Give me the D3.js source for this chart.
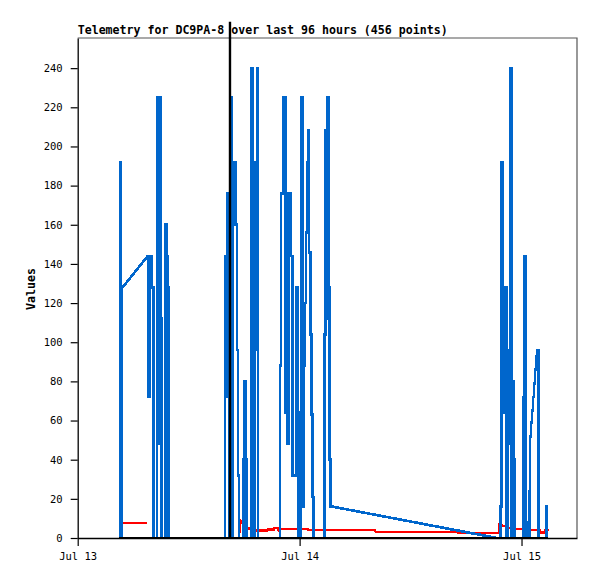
<!DOCTYPE html>
<html><head><meta charset="utf-8">
<script src="https://cdn.jsdelivr.net/npm/d3@7"></script>
<style>
html,body{margin:0;padding:0;background:#fff;}
svg{display:block;}
</style></head>
<body>
<script>
// ---- data (hours since Jul 13 00:00 UTC) ----
const title = "Telemetry for DC9PA-8 over last 96 hours (456 points)";
const yLabel = "Values";
const xTickLabels = ["Jul 13", "Jul 14", "Jul 15"];
const yTicks = [0,20,40,60,80,100,120,140,160,180,200,220,240];

const blueHours = [4.52,4.61,4.70,4.85,7.57,7.68,7.87,8.12,8.25,8.52,8.63,8.74,8.90,9.01,9.12,9.44,9.53,9.64,9.77,9.87,
  15.88,15.99,16.13,16.29,16.42,16.58,16.72,16.87,17.01,17.17,17.28,17.39,17.48,17.86,17.96,18.05,18.18,18.27,18.71,18.83,18.98,19.10,19.20,19.31,19.45,19.56,
  21.83,21.93,22.07,22.31,22.44,22.58,22.74,22.93,23.12,23.29,23.51,23.69,23.81,23.88,24.08,24.21,24.34,24.40,24.51,24.66,24.74,24.85,24.96,25.09,25.21,25.31,25.45,25.54,
  26.64,26.73,26.84,26.97,27.07,27.20,27.31,27.42,27.58,45.35,
  45.65,45.73,45.87,46.03,46.16,46.32,46.45,46.57,46.68,46.86,46.99,47.11,47.24,47.33,48.14,48.22,48.38,48.51,48.57,48.79,48.86,48.97,49.08,49.19,49.30,49.41,49.52,49.63,49.78,49.89,50.65,50.72,50.79];
const blueValues = [0,192,0,128,144,72,144,128,0,0,225,48,225,112,0,0,160,144,128,0,
  0,144,72,176,0,225,0,176,192,160,96,32,0,0,40,80,40,0,0,240,16,0,96,192,240,0,
  0,88,176,225,225,64,48,176,144,32,32,128,64,0,0,225,112,16,88,120,156,192,208,146,104,63,21,0,
  0,104,208,112,225,128,40,16,16,0,
  0,16,192,128,64,128,0,48,96,240,0,80,40,0,0,72,144,8,0,0,24,52,59,65,72,79,86,93,96,0,0,16,0];

const redHours = [4.46,7.49,null,17.55,17.61,17.86,17.91,18.96,19.01,20.47,20.53,21.23,21.28,21.66,21.72,21.88,24.91,24.96,32.15,32.21,41.02,41.08,45.57,45.62,46.20,46.42,46.45,46.50,47.30,47.35,48.27,48.32,50.01,50.06,50.52,50.57,50.98];
const redValues = [7.8,7.8,null,2.5,9,8.5,4.8,4.8,3.8,3.8,4.4,4.4,5,5,4.0,4.6,4.6,4.1,4.1,3.2,3.2,2.7,2.7,7,6,6,9.2,5,5,4.6,4.6,4.1,4.1,2.8,2.8,4.0,4.0];

const blackHours = [4.46, 50.90];
const blackValues = [0, 0];

const markerHour = 16.47;

// ---- layout ----
const W = 597, H = 579;
const L = 77.7, R = 577, T = 38, B = 538;
const base = Date.UTC(2023, 6, 13);
const hr = h => new Date(base + h * 3600000);

const x = d3.scaleUtc().domain([hr(0), hr(54)]).range([L, R]);
const y = d3.scaleLinear().domain([0, 255.4]).range([B, T]);

const svg = d3.select("body").append("svg").attr("width", W).attr("height", H);

// frame (top/right)
svg.append("path")
  .attr("d", `M${L},${T}H${R}V${B}`)
  .attr("fill", "none").attr("stroke", "#555").attr("stroke-width", 1.2);

// curve: step between close samples, straight line across data gaps
function curveHybrid(context) {
  return {
    areaStart() {}, areaEnd() {},
    lineStart() { this._p = 0; },
    lineEnd() {},
    point(px, py) {
      if (!this._p) { context.moveTo(px, py); this._p = 1; }
      else if (px - this._x > 8) { context.lineTo(px, py); }
      else {
        const m = (this._x + px) / 2;
        context.lineTo(m, this._y); context.lineTo(m, py); context.lineTo(px, py);
      }
      this._x = px; this._y = py;
    }
  };
}

const mk = (hs, vs) => hs.map((h, i) => h === null ? null : [hr(h), vs[i]]);
const line = d3.line().defined(d => d !== null).x(d => x(d[0])).y(d => y(d[1]));
const stepLine = d3.line().curve(curveHybrid).x(d => x(d[0])).y(d => y(d[1]));

svg.append("path").datum(mk(redHours, redValues))
  .attr("d", line).attr("fill", "none").attr("stroke", "#ff0000").attr("stroke-width", 2.3)
  .attr("shape-rendering", "crispEdges");

svg.append("path").datum(mk(blueHours, blueValues))
  .attr("d", stepLine).attr("fill", "none").attr("stroke", "#0066cc").attr("stroke-width", 2.7)
  .attr("stroke-linejoin", "miter").attr("shape-rendering", "crispEdges");

svg.append("path").datum(mk(blackHours, blackValues))
  .attr("d", line).attr("fill", "none").attr("stroke", "#000").attr("stroke-width", 2.5)
  .attr("shape-rendering", "crispEdges");

// axes
const xAxis = d3.axisBottom(x)
  .tickValues([hr(0), hr(24), hr(48)])
  .tickFormat((d, i) => xTickLabels[i])
  .tickSize(8).tickPadding(7).tickSizeOuter(0);
const gx = svg.append("g").attr("transform", `translate(0,${B})`).call(xAxis);

const yAxis = d3.axisLeft(y).tickValues(yTicks).tickSize(7).tickPadding(8).tickSizeOuter(0);
const gy = svg.append("g").attr("transform", `translate(${L},0)`).call(yAxis);

[gx, gy].forEach(g => {
  g.select(".domain").attr("stroke", "#000").attr("stroke-width", 1.3);
  g.selectAll(".tick line").attr("stroke", "#000").attr("stroke-width", 1.2);
  g.selectAll("text").attr("font-family", "'DejaVu Sans Mono', monospace")
    .attr("font-size", "10.5px").attr("fill", "#000");
});

// vertical marker
svg.append("line")
  .attr("x1", x(hr(markerHour))).attr("x2", x(hr(markerHour)))
  .attr("y1", 21.7).attr("y2", B)
  .attr("stroke", "#000").attr("stroke-width", 2.4);

// title
svg.append("text").attr("x", L).attr("y", 34.3)
  .attr("font-family", "'DejaVu Sans Mono', monospace").attr("font-weight", "bold")
  .attr("font-size", "11.6px").attr("fill", "#000").text(title);

// y label
svg.append("text")
  .attr("transform", `translate(35,289) rotate(-90)`)
  .attr("text-anchor", "middle")
  .attr("font-family", "'DejaVu Sans Mono', monospace").attr("font-weight", "bold")
  .attr("font-size", "11.6px").attr("fill", "#000").text(yLabel);
</script>
</body></html>
